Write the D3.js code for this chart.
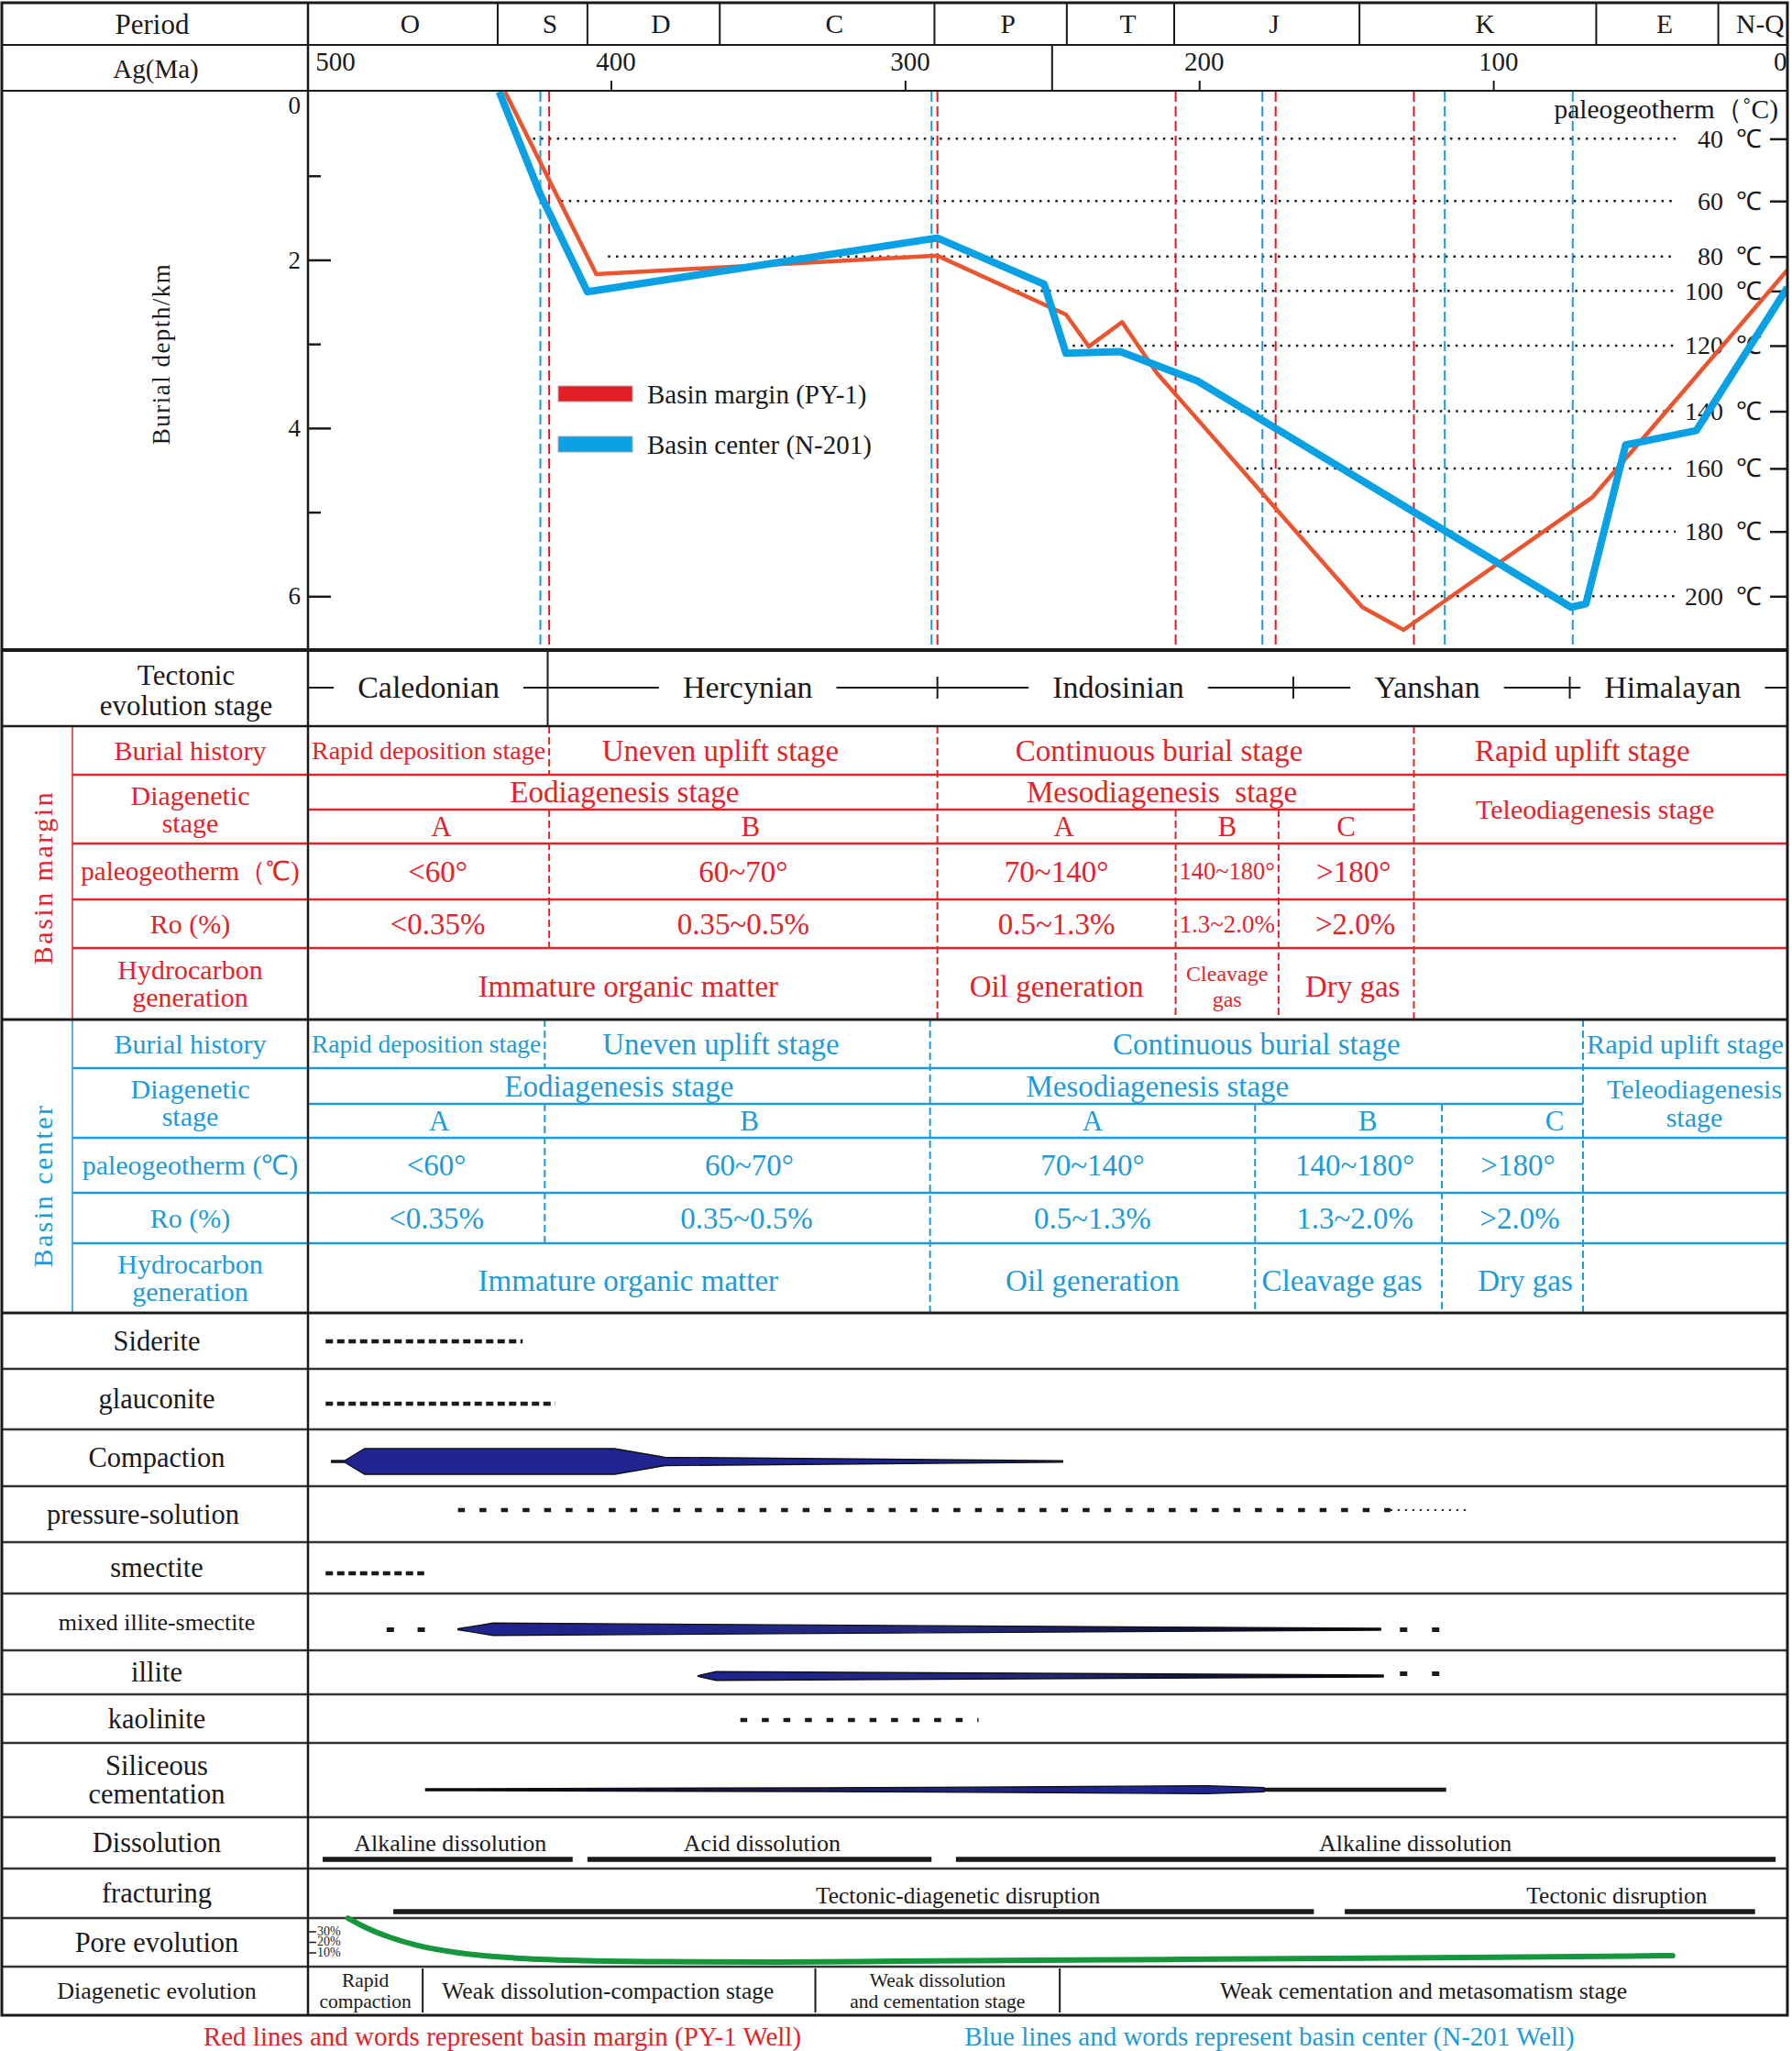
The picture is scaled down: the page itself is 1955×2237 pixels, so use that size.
<!DOCTYPE html>
<html>
<head>
<meta charset="utf-8">
<title>Burial history and diagenetic evolution</title>
<script src="https://cdn.jsdelivr.net/npm/d3@7/dist/d3.min.js"></script>
<style>
  body { margin: 0; background: #fff; }
  svg { display: block; }
  text { font-family: "Liberation Serif", "Times New Roman", serif; }
</style>
</head>
<body>
<script>
// ---- data: ages in Ma, depths in km ----
const periods = ["O", "S", "D", "C", "P", "T", "J", "K", "E", "N-Q"];
const periodBreaks = [438.5, 408, 363, 290, 245, 208.5, 145.5, 65, 23.5];
const ageRowBreak = 250;
const ageTicks = [500, 400, 300, 200, 100, 0];

const isoTemps = [40, 60, 80, 100, 120, 140, 160, 180, 200];
const isoDepths = [0.56, 1.3, 1.96, 2.37, 3.02, 3.8, 4.48, 5.23, 6.0];
const isoStart = [426.5, 417, 401, 262, 243, 199.5, 184, 166, 145];
const isoEnd = 38;

const marginBurial = [[436, 0], [423, 0.91], [405, 2.17], [289, 1.95], [245.3, 2.65], [237.5, 3.03],
  [226.2, 2.74], [214.3, 3.35], [144.5, 6.13], [130.5, 6.4], [66.2, 4.82], [0, 2.12]];
const centerBurial = [[438, 0], [424, 1.22], [408, 2.38], [289, 1.74], [252.7, 2.29], [245.3, 3.11],
  [226.8, 3.09], [200.6, 3.44], [73.6, 6.13], [68.5, 6.09], [55, 4.2], [31, 4.03], [0, 2.33]];
const marginLines = [421, 289, 208, 174, 127];
const centerLines = [424, 291, 178.5, 116.5, 73];

const tectonicStages = ["Caledonian", "Hercynian", "Indosinian", "Yanshan", "Himalayan"];
const tectonicLabelAges = [462, 353.5, 227.5, 122.5, 39];
const tectonicBreaks = [421.5, 289, 168, 74];

const rowLabels = ["Burial history", "Diagenetic\nstage", "paleogeotherm（℃)", "Ro (%)", "Hydrocarbon\ngeneration"];
const centerRowLabels = ["Burial history", "Diagenetic\nstage", "paleogeotherm (℃)", "Ro (%)", "Hydrocarbon\ngeneration"];

const marginBreaks = [421, 289, 208, 173, 127];
const marginBurialStages = ["Rapid deposition stage", "Uneven uplift stage", "Continuous burial stage", "Rapid uplift stage"];
const marginDiagStages = ["Eodiagenesis stage", "Mesodiagenesis\u00a0\u00a0stage", "Teleodiagenesis stage"];
const marginSubStages = ["A", "B", "A", "B", "C"];
const marginTemps = ["<60°", "60~70°", "70~140°", "140~180°", ">180°"];
const marginRo = ["<0.35%", "0.35~0.5%", "0.5~1.3%", "1.3~2.0%", ">2.0%"];
const marginHC = ["Immature organic matter", "Oil generation", "Cleavage\ngas", "Dry gas"];

const centerBreaks = [422.5, 291.5, 181, 117.5, 69.5];
const centerBurialStages = ["Rapid deposition stage", "Uneven uplift stage", "Continuous burial stage", "Rapid uplift stage"];
const centerDiagStages = ["Eodiagenesis stage", "Mesodiagenesis stage", "Teleodiagenesis\nstage"];
const centerSubStages = ["A", "B", "A", "B", "C"];
const centerTemps = ["<60°", "60~70°", "70~140°", "140~180°", ">180°"];
const centerRo = ["<0.35%", "0.35~0.5%", "0.5~1.3%", "1.3~2.0%", ">2.0%"];
const centerHC = ["Immature organic matter", "Oil generation", "Cleavage gas", "Dry gas"];

const processNames = ["Siderite", "glauconite", "Compaction", "pressure-solution", "smectite",
  "mixed illite-smectite", "illite", "kaolinite", "Siliceous\ncementation", "Dissolution",
  "fracturing", "Pore evolution", "Diagenetic evolution"];

const sideriteRange = [497, 430];
const glauconiteRange = [497, 419];
const smectiteRange = [497, 463.5];
const pressureDashed = [452, 135];
const pressureDotted = [135, 109];
const kaoliniteRange = [356, 275];
const compactionProfile = [[495, 1], [490.5, 1], [483.8, 14], [398.8, 14], [381.6, 4.5], [246.4, 0.8]];
const mixedDots = [475, 464.5, 130.5, 119.6];
const mixedProfile = [[452, 0.5], [440, 6.7], [138.3, 1]];
const illiteDots = [130.5, 119.6];
const illiteProfile = [[370.4, 0.3], [364.2, 4.7], [137.4, 1]];
const siliceousProfile = [[463, 1], [330, 2], [250, 3.2], [197.5, 4.4], [178, 2.2]];
const siliceousTail = [178, 116];

const dissolutionSegs = [[498, 413], [408, 291], [282.7, 4]];
const dissolutionLabels = ["Alkaline dissolution", "Acid dissolution", "Alkaline dissolution"];
const dissolutionLabelAges = [454.6, 348.6, 126.5];
const fractureSegs = [[474, 161], [150.5, 11]];
const fractureLabels = ["Tectonic-diagenetic disruption", "Tectonic disruption"];
const fractureLabelAges = [282, 58];

const poreAges = [489.4, 482.9, 475.1, 465.7, 451.7, 433, 408, 383, 342.7, 302, 205.6, 109, 39];
const porePercent = [43, 33.5, 24.8, 17, 10, 5.2, 2.6, 1.7, 1.3, 2.2, 3.9, 5.7, 7.4];
const poreTicks = [30, 20, 10];

const evolutionBreaks = [464, 330.5, 247.4];
const evolutionStages = ["Rapid\ncompaction", "Weak dissolution-compaction stage",
  "Weak dissolution\nand cementation stage", "Weak cementation and metasomatism stage"];

const footnotes = ["Red lines and words represent basin margin (PY-1 Well)",
  "Blue lines and words represent basin center (N-201 Well)"];

// ---- layout ----
const W = 1955, H = 2237;
const L = 2, R = 1950, LC = 336, SIDE = 79;
const RED = "#e3232a", BLUE = "#1c9bd8", INK = "#1a1a1a", NAVY = "#1f2490";
const START = 503, END = 0;
const TXT = 33;

const svg = d3.select("body").append("svg").attr("width", W).attr("height", H);
const defs = svg.append("defs");

const x = d3.scaleLinear().domain([START, END]).range([LC, R]);
const y = d3.scaleLinear().domain([0, 6.64]).range([100, 709]);

function line(g, x1, y1, x2, y2, color, width, dash) {
  const l = g.append("line")
    .attr("x1", x1).attr("y1", y1).attr("x2", x2).attr("y2", y2)
    .attr("stroke", color || INK).attr("stroke-width", width || 2);
  if (dash) l.attr("stroke-dasharray", dash);
  return l;
}

function label(g, cx, cy, s, o = {}) {
  const size = o.size || 29, lh = o.lh || Math.round(size * 1.07);
  const lines = String(s).split("\n");
  const t = g.append("text")
    .attr("text-anchor", o.anchor || "middle")
    .attr("font-size", size)
    .attr("fill", o.color || INK);
  if (o.spacing) t.attr("letter-spacing", o.spacing);
  const first = cy + size * 0.34 - (lines.length - 1) * lh / 2;
  lines.forEach((ln, i) => t.append("tspan").attr("x", cx).attr("y", first + i * lh).text(ln));
  if (o.fit && lines.length === 1) {
    const w = t.node().getComputedTextLength();
    if (w > o.fit) {
      const s2 = size * o.fit / w;
      t.attr("font-size", s2);
      t.select("tspan").attr("y", cy + s2 * 0.34);
    }
  }
  return t;
}

const mid = (a0, a1) => (x(a0) + x(a1)) / 2;

// ---- header: period and age ----
const head = svg.append("g");
const pEdges = [START].concat(periodBreaks, [END]);
periods.forEach((p, i) => label(head, mid(pEdges[i], pEdges[i + 1]) + 8, 26, p, { size: 29.5 }));
periodBreaks.forEach(a => line(head, x(a), 3, x(a), 49));
label(head, 166, 26, "Period", { size: 31 });
label(head, 170, 75, "Ag(Ma)", { size: 29 });
line(head, x(ageRowBreak), 49, x(ageRowBreak), 99);

const ga = svg.append("g").attr("transform", "translate(0,99)")
  .call(d3.axisTop(x).tickValues(ageTicks).tickSizeInner(11).tickSizeOuter(0).tickPadding(11).tickFormat(d3.format("d")));
ga.attr("font-family", "Liberation Serif, serif").attr("font-size", 29);
ga.select(".domain").remove();
ga.selectAll(".tick line").attr("stroke", INK).attr("stroke-width", 2);
ga.selectAll(".tick text").attr("fill", INK).attr("x", 5);
ga.selectAll(".tick").filter(d => d === 500 || d === 0).select("line").remove();
ga.selectAll(".tick text").filter(d => d === 500).attr("text-anchor", "start").attr("x", -2);
ga.selectAll(".tick text").filter(d => d === 0).attr("text-anchor", "end").attr("x", -1);

// ---- burial history chart ----
const chart = svg.append("g");
defs.append("clipPath").attr("id", "plot").append("rect")
  .attr("x", LC).attr("y", 100).attr("width", R - LC).attr("height", 607);

isoTemps.forEach((t, i) =>
  line(chart, x(isoStart[i]), y(isoDepths[i]), x(isoEnd), y(isoDepths[i]), INK, 2.5, "2.5,6.2"));
marginLines.forEach(a => line(chart, x(a), 100, x(a), 707, "#e8161e", 2, "11,5"));
centerLines.forEach(a => line(chart, x(a), 100, x(a), 707, "#1e9ad6", 2, "11,5"));

const gy = chart.append("g").attr("transform", `translate(${LC},0)`)
  .call(d3.axisLeft(y).tickValues([0, 2, 4, 6]).tickSizeInner(-25).tickSizeOuter(0).tickPadding(8).tickFormat(d3.format("d")));
const gy2 = chart.append("g").attr("transform", `translate(${LC},0)`)
  .call(d3.axisLeft(y).tickValues([1, 3, 5]).tickSizeInner(-14).tickSizeOuter(0).tickFormat(""));
[gy, gy2].forEach(g => {
  g.attr("font-family", "Liberation Serif, serif").attr("font-size", 27);
  g.select(".domain").remove();
  g.selectAll(".tick line").attr("stroke", INK).attr("stroke-width", 2.5);
  g.selectAll(".tick text").attr("fill", INK);
});
gy.selectAll(".tick").filter(d => d === 0).select("line").remove();
gy.selectAll(".tick text").filter(d => d === 0).attr("y", 15);

const gt = chart.append("g").attr("transform", `translate(${R},0)`)
  .call(d3.axisLeft(y).tickValues(isoDepths).tickSizeInner(19).tickSizeOuter(0).tickPadding(9)
    .tickFormat((d, i) => isoTemps[i] + "\u2002℃"));
gt.attr("font-family", "Liberation Serif, serif").attr("font-size", 28);
gt.select(".domain").remove();
gt.selectAll(".tick line").attr("stroke", INK).attr("stroke-width", 2.5);
gt.selectAll(".tick text").attr("fill", INK);

label(chart, 1940, 119, "paleogeotherm（˚C)", { anchor: "end", size: 29.5 });

const rot = chart.append("g").attr("transform", "translate(176,386) rotate(-90)");
label(rot, 0, 0, "Burial depth/km", { size: 27, spacing: 1.5 });

const burialLine = d3.line().x(d => x(d[0])).y(d => y(d[1]));
const curves = chart.append("g").attr("clip-path", "url(#plot)");
curves.append("path").datum(marginBurial).attr("d", burialLine)
  .attr("fill", "none").attr("stroke", "#e9552f").attr("stroke-width", 4.5).attr("stroke-linejoin", "round");
curves.append("path").datum(centerBurial).attr("d", burialLine)
  .attr("fill", "none").attr("stroke", "#0aa1e4").attr("stroke-width", 8).attr("stroke-linejoin", "round");

const legend = chart.append("g");
legend.append("rect").attr("x", 609).attr("y", 421).attr("width", 81).attr("height", 17)
  .attr("fill", "#e41e25").attr("stroke", "#aaa").attr("stroke-width", 1);
legend.append("rect").attr("x", 609).attr("y", 476).attr("width", 81).attr("height", 17)
  .attr("fill", "#0aa1e4").attr("stroke", "#aaa").attr("stroke-width", 1);
label(legend, 706, 430, "Basin margin (PY-1)", { anchor: "start", size: 29 });
label(legend, 706, 485, "Basin center (N-201)", { anchor: "start", size: 29 });

// ---- tectonic evolution row ----
const tect = svg.append("g");
label(tect, 203, 753, "Tectonic\nevolution stage", { size: 31, lh: 33 });
const tLabels = tectonicStages.map((s, i) => label(tect, x(tectonicLabelAges[i]), 749, s, { size: 34 }));
let from = LC;
tLabels.forEach(t => {
  const b = t.node().getBBox();
  line(tect, from, 750, b.x - 26, 750, INK, 2);
  from = b.x + b.width + 26;
});
line(tect, from, 750, R, 750, INK, 2);
line(tect, x(tectonicBreaks[0]), 709, x(tectonicBreaks[0]), 792, INK, 2);
tectonicBreaks.slice(1).forEach(a => line(tect, x(a), 738, x(a), 762, INK, 2));

// ---- basin margin / basin center tables ----
// nudge: small horizontal offsets (px) of cell texts, as placed in the original figure
function drawBasin(ys, b, labels, burial, diag, sub, temps, ro, hc, color, side, sideY, nudge) {
  const g = svg.append("g");
  const [y0, y1, y2, y3, y4, y5, y6] = ys;
  const c = (a, b2) => (a + b2) / 2;
  line(g, SIDE, y1, R, y1, color, 2.5);
  line(g, LC, y2, x(b[4]), y2, color, 2.5);
  [y3, y4, y5].forEach(yy => line(g, SIDE, yy, R, yy, color, 2.5));
  line(g, SIDE, y0, SIDE, y6, color, 1.5);
  const dash = (a, ya, yb) => line(g, x(a), ya, x(a), yb, color, 2, "8,4");
  dash(b[0], y0, y1); dash(b[0], y2, y5);
  dash(b[1], y0, y6); dash(b[2], y2, y6); dash(b[3], y2, y6); dash(b[4], y0, y6);

  const rowMid = [c(y0, y1), c(y1, y3), c(y3, y4), c(y4, y5), c(y5, y6)];
  labels.forEach((s, i) => label(g, (SIDE + LC) / 2, rowMid[i], s,
    { size: 30, lh: 30, color, fit: LC - SIDE - 18 }));
  const rg = g.append("g").attr("transform", `translate(47,${sideY}) rotate(-90)`);
  label(rg, 0, 0, side, { size: 30, spacing: 2.5, color });

  const e = [START].concat(b, [END]);
  const bCells = [[e[0], e[1]], [e[1], e[2]], [e[2], e[5]], [e[5], e[6]]];
  burial.forEach((s, i) => label(g, mid(...bCells[i]) + nudge.burial[i], c(y0, y1), s,
    { size: TXT, color, fit: x(bCells[i][1]) - x(bCells[i][0]) - 8 }));
  label(g, mid(e[0], e[2]) + nudge.diag[0], c(y1, y2), diag[0], { size: TXT, color });
  label(g, mid(e[2], e[5]) + nudge.diag[1], c(y1, y2), diag[1], { size: TXT, color });
  label(g, mid(e[5], e[6]) + nudge.diag[2], c(y1, y3), diag[2], { size: 30, lh: 31, color });
  const fine = [[e[0], e[1]], [e[1], e[2]], [e[2], e[3]], [e[3], e[4]], [e[4], e[5]]];
  const fitW = i => x(fine[i][1]) - x(fine[i][0]) - 8;
  sub.forEach((s, i) => label(g, mid(...fine[i]) + nudge.sub[i], c(y2, y3), s, { size: 31, color }));
  temps.forEach((s, i) => label(g, mid(...fine[i]) + nudge.temp[i], c(y3, y4), s, { size: TXT, color, fit: fitW(i) }));
  ro.forEach((s, i) => label(g, mid(...fine[i]) + nudge.ro[i], c(y4, y5), s, { size: TXT, color, fit: fitW(i) }));
  const hCells = [[e[0], e[2]], [e[2], e[3]], [e[3], e[4]], [e[4], e[5]]];
  hc.forEach((s, i) => {
    const two = s.indexOf("\n") >= 0;
    label(g, mid(...hCells[i]) + nudge.hc[i], c(y5, y6) + 3, s,
      { size: two ? 24 : TXT, lh: 28, color, fit: two ? null : x(hCells[i][1]) - x(hCells[i][0]) - 6 });
  });
}

drawBasin([792, 845, 883, 920, 981, 1034, 1112], marginBreaks, rowLabels, marginBurialStages,
  marginDiagStages, marginSubStages, marginTemps, marginRo, marginHC, RED, "Basin margin", 957,
  { burial: [0, -25, -18, -20], diag: [2, -15, -6], sub: [14, 8, 8, 0, 0],
    temp: [10, 0, 0, 0, 8], ro: [10, 0, 0, 0, 10], hc: [6, 0, 0, 7] });
drawBasin([1112, 1165, 1204, 1241, 1301, 1356, 1432], centerBreaks, centerRowLabels, centerBurialStages,
  centerDiagStages, centerSubStages, centerTemps, centerRo, centerHC, BLUE, "Basin center", 1293,
  { burial: [0, -18, 0, 0], diag: [0, -108, 10], sub: [14, 13, 0, 21, 46],
    temp: [11, 13, 0, 7, 6], ro: [11, 10, 0, 7, 8], hc: [10, 0, -7, 14] });

// ---- diagenetic processes ----
const proc = svg.append("g");
const procY = [1432, 1493, 1559, 1621, 1682, 1738, 1800, 1848, 1901, 1982, 2038, 2092, 2145, 2198];
procY.slice(1, -1).forEach(yy => line(proc, L, yy, R, yy, "#333", 2.5));
processNames.forEach((s, i) => {
  const size = i === 5 ? 26 : i === 12 ? 26 : 30.5;
  const cx = i === 3 ? 156 : 171;
  label(proc, cx, (procY[i] + procY[i + 1]) / 2, s, { size, lh: 31 });
});

const seg = (r, yy, w, dash, color) => line(proc, x(r[0]), yy, x(r[1]), yy, color || INK, w, dash);
seg(sideriteRange, 1463, 4.5, "8,4.5");
seg(glauconiteRange, 1531, 4.5, "8,4.5");
seg(smectiteRange, 1716, 4.5, "8,4.5");
seg(pressureDashed, 1647, 4.5, "7.5,16");
seg(pressureDotted, 1647, 2, "2,6");
seg(kaoliniteRange, 1876, 4.5, "7.5,16");

function grad(id, a0, a1, stops) {
  const gr = defs.append("linearGradient").attr("id", id).attr("gradientUnits", "userSpaceOnUse")
    .attr("x1", x(a0)).attr("x2", x(a1)).attr("y1", 0).attr("y2", 0);
  stops.forEach(s => gr.append("stop").attr("offset", s[0]).attr("stop-color", s[1]));
}
function band(profile, cy, fill) {
  const area = d3.area().x(d => x(d[0])).y0(d => cy - d[1]).y1(d => cy + d[1]);
  proc.append("path").datum(profile).attr("d", area)
    .attr("fill", fill).attr("stroke", "#111").attr("stroke-width", 1.4).attr("stroke-linejoin", "round");
}
grad("gMixed", 452, 138, [[0, NAVY], [0.55, "#23287a"], [1, "#000"]]);
grad("gIllite", 370, 137, [[0, NAVY], [0.5, "#23287a"], [1, "#000"]]);
grad("gSil", 463, 178, [[0, "#000"], [0.45, "#1a1d5a"], [0.8, NAVY], [1, NAVY]]);

band(compactionProfile, 1594, NAVY);
band(mixedProfile, 1777, "url(#gMixed)");
band(illiteProfile, 1828, "url(#gIllite)");
band(siliceousProfile, 1952, "url(#gSil)");
seg(siliceousTail, 1952, 4.5);

mixedDots.forEach(a => proc.append("rect").attr("x", x(a) - 4).attr("y", 1775).attr("width", 8).attr("height", 5).attr("fill", INK));
illiteDots.forEach(a => proc.append("rect").attr("x", x(a) - 4).attr("y", 1823).attr("width", 8).attr("height", 5).attr("fill", INK));

dissolutionSegs.forEach((r, i) => {
  seg(r, 2028, 5.5);
  label(proc, x(dissolutionLabelAges[i]), 2010, dissolutionLabels[i], { size: 26 });
});
fractureSegs.forEach(r => seg(r, 2085, 5.5));
fractureLabels.forEach((s, i) => label(proc, x(fractureLabelAges[i]), 2067, s, { size: 25.5 }));

// pore evolution
const py = d3.scaleLinear().domain([10, 30]).range([2130, 2107]);
poreTicks.forEach(p => {
  line(proc, LC, py(p), LC + 9, py(p), INK, 1.5);
  label(proc, LC + 10, py(p) - 1, p + "%", { anchor: "start", size: 14 });
});
const poreLine = d3.line().x((d, i) => x(poreAges[i])).y(d => py(d)).curve(d3.curveMonotoneX);
proc.append("path").datum(porePercent).attr("d", poreLine)
  .attr("fill", "none").attr("stroke", "#16973e").attr("stroke-width", 6).attr("stroke-linecap", "round");

// diagenetic evolution
evolutionBreaks.forEach(a => line(proc, x(a), 2147, x(a), 2195, INK, 2));
const evEdges = [START].concat(evolutionBreaks, [END]);
evolutionStages.forEach((s, i) => {
  const two = s.indexOf("\n") >= 0;
  label(proc, mid(evEdges[i], evEdges[i + 1]) + (i === 1 ? -12 : 0), 2171, s, { size: two ? 21.5 : 25.5, lh: 23 });
});

// ---- frame and main rules ----
const frame = svg.append("g");
[49, 99].forEach(yy => line(frame, L, yy, R, yy, INK, 2));
line(frame, L, 709, R, 709, INK, 4);
line(frame, L, 792, R, 792, INK, 2.5);
line(frame, L, 1112, R, 1112, INK, 3);
line(frame, L, 1432, R, 1432, INK, 3);
line(frame, LC, 3, LC, 2198, INK, 2.5);
frame.append("rect").attr("x", L).attr("y", 3).attr("width", R - L).attr("height", 2195)
  .attr("fill", "none").attr("stroke", INK).attr("stroke-width", 3);

// ---- footnotes ----
label(svg, 548, 2221, footnotes[0], { size: 29, color: RED });
label(svg, 1385, 2221, footnotes[1], { size: 29, color: BLUE });
</script>
</body>
</html>
